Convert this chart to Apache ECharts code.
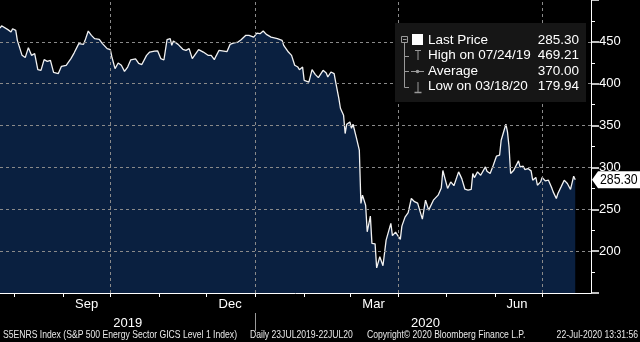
<!DOCTYPE html>
<html><head><meta charset="utf-8">
<script src="https://cdn.jsdelivr.net/npm/echarts@6/dist/echarts.min.js"></script>
<style>html,body{margin:0;padding:0;background:#000;}#c{width:640px;height:342px;}</style>
</head><body><div id="c"></div>
<script>
const dates = [
'2019-07-23','2019-07-24','2019-07-28','2019-07-30','2019-07-31','2019-08-02','2019-08-03','2019-08-06','2019-08-08','2019-08-10',
'2019-08-12','2019-08-14','2019-08-16','2019-08-18','2019-08-20','2019-08-22','2019-08-24','2019-08-26','2019-08-29','2019-08-31',
'2019-09-03','2019-09-06','2019-09-08','2019-09-11','2019-09-14','2019-09-15','2019-09-17','2019-09-19','2019-09-21','2019-09-24',
'2019-09-26','2019-09-29','2019-10-01','2019-10-02','2019-10-04','2019-10-06','2019-10-08','2019-10-10','2019-10-12','2019-10-14',
'2019-10-17','2019-10-19','2019-10-21','2019-10-24','2019-10-26','2019-10-29','2019-10-31','2019-11-02','2019-11-04','2019-11-06',
'2019-11-08','2019-11-09','2019-11-10','2019-11-13','2019-11-16','2019-11-18','2019-11-20','2019-11-22','2019-11-23','2019-11-26',
'2019-11-29','2019-12-02','2019-12-04','2019-12-06','2019-12-07','2019-12-09','2019-12-10','2019-12-14','2019-12-16','2019-12-18',
'2019-12-21','2019-12-23','2019-12-26','2019-12-28','2019-12-31','2020-01-02','2020-01-04','2020-01-06','2020-01-08','2020-01-09',
'2020-01-11','2020-01-12','2020-01-15','2020-01-18','2020-01-19','2020-01-22','2020-01-24','2020-01-26','2020-01-28','2020-01-29',
'2020-01-31','2020-02-01','2020-02-02','2020-02-04','2020-02-06','2020-02-08','2020-02-10','2020-02-13','2020-02-15','2020-02-16',
'2020-02-18','2020-02-20','2020-02-21','2020-02-23','2020-02-24','2020-02-26','2020-02-27','2020-02-28','2020-03-01','2020-03-02',
'2020-03-03','2020-03-05','2020-03-07','2020-03-08','2020-03-09','2020-03-11','2020-03-12','2020-03-14','2020-03-15','2020-03-17',
'2020-03-18','2020-03-20','2020-03-22','2020-03-24','2020-03-27','2020-03-28','2020-03-30','2020-04-02','2020-04-03','2020-04-05',
'2020-04-07','2020-04-09','2020-04-11','2020-04-13','2020-04-16','2020-04-18','2020-04-20','2020-04-23','2020-04-26','2020-04-28',
'2020-04-29','2020-05-02','2020-05-04','2020-05-06','2020-05-09','2020-05-11','2020-05-13','2020-05-15','2020-05-17','2020-05-18',
'2020-05-19','2020-05-21','2020-05-23','2020-05-24','2020-05-26','2020-05-27','2020-05-29','2020-05-31','2020-06-02','2020-06-04',
'2020-06-05','2020-06-08','2020-06-09','2020-06-10','2020-06-11','2020-06-13','2020-06-14','2020-06-16','2020-06-17','2020-06-19',
'2020-06-20','2020-06-22','2020-06-24','2020-06-25','2020-06-27','2020-06-28','2020-06-30','2020-07-01','2020-07-03','2020-07-05',
'2020-07-07','2020-07-08','2020-07-10','2020-07-11','2020-07-13','2020-07-15','2020-07-17','2020-07-19','2020-07-21','2020-07-22'
];
const prices = [
466.5,469.21,464.6,461.7,465.7,463.7,451.8,433.9,431.2,443.1,
433.9,435.9,416.8,416.0,428.8,426.7,427.9,413.6,412.1,420.8,
422.0,430.0,436.6,447.9,447.0,451.8,462.9,457.8,453.8,453.0,
447.9,441.9,440.7,431.9,418.0,424.7,422.0,414.8,419.9,428.5,
429.7,424.4,422.9,433.9,437.8,438.9,439.3,430.0,428.3,452.6,
453.8,445.8,451.0,447.0,441.1,439.9,441.9,430.0,432.7,440.7,
437.8,433.9,433.9,428.8,432.7,439.9,438.1,438.3,447.0,448.6,
449.8,452.6,457.8,457.8,455.7,460.5,459.8,462.9,458.9,459.8,
455.7,456.6,453.8,451.8,445.8,437.8,433.9,422.0,419.9,416.8,
419.9,404.1,402.0,402.0,416.8,411.2,407.3,416.0,412.8,408.0,
414.0,412.1,402.0,382.6,370.7,362.3,340.5,351.6,354.3,346.8,
351.6,336.4,320.6,257.0,266.9,254.9,223.1,241.8,209.3,208.8,
179.94,193.3,182.5,213.2,233.1,218.6,222.7,214.0,229.9,240.6,
246.0,262.9,259.1,257.3,238.2,260.9,249.0,260.9,266.9,275.5,
296.3,274.9,282.7,278.2,294.7,286.6,274.0,272.8,273.8,292.8,
287.8,294.7,290.7,292.8,300.6,295.5,292.8,302.7,313.4,314.6,
332.5,351.6,342.4,324.5,292.8,296.7,300.6,307.8,300.6,301.5,
297.5,298.7,295.9,284.8,288.0,278.8,282.7,288.0,283.9,284.8,
276.1,270.8,262.9,268.9,276.8,284.8,280.8,273.7,289.5,285.30
];
const xMin = '2019-07-23';
const xMax = '2020-08-01';
const monthTickDates = ['2019-08-01','2019-09-01','2019-10-01','2019-11-01','2019-12-01','2020-01-01','2020-02-01','2020-03-01','2020-04-01','2020-05-01','2020-06-01','2020-07-01'];
const quarterLineDates = ['2019-10-01','2020-01-01','2020-04-01','2020-07-01'];
const monthLabelDates = ['2019-09-16','2019-12-16','2020-03-16','2020-06-15'];
const monthLabels = ['Sep','Dec','Mar','Jun'];
const yearLabelDates = ['2019-10-12','2020-04-18'];
const yearLabels = ['2019','2020'];
const yearBreakDates = ['2020-01-01'];
const yMin = 150, yMax = 500, yStep = 50;
const legendLabels = ['Last Price','High on 07/24/19','Average','Low on 03/18/20'];
const legendValues = ['285.30','469.21','370.00','179.94'];
const lastPriceText = '285.30';
const footerTexts = ['S5ENRS Index (S&P 500 Energy Sector GICS Level 1 Index)','Daily 23JUL2019-22JUL20','Copyright\u00A9 2020 Bloomberg Finance L.P.','22-Jul-2020 13:31:56'];

const REG = "'Liberation Sans',Arial,sans-serif";
const ts = d => +echarts.time.parse(d);
const chart = echarts.init(document.getElementById('c'), null, {renderer:'canvas'});
function lookup(arrD, arrL){
  const t = arrD.map(ts);
  return v => { for (let i=0;i<t.length;i++){ if (Math.abs(t[i]-v) < 43200000) return arrL[i]; } return ''; };
}
const X0 = ts(xMin), X1 = ts(xMax);
const option = {
  backgroundColor:'#000',
  animation:false,
  grid: {left:0, right:49, top:0, bottom:49},
  xAxis: [
    {type:'value', min:X0, max:X1, position:'bottom', z:3,
     axisLine:{show:true, onZero:false, lineStyle:{color:'#ffffff', width:1}},
     axisTick:{show:true, customValues:monthTickDates.map(ts), length:4, lineStyle:{color:'#ffffff'}},
     axisLabel:{show:false}, splitLine:{show:false}},
    {type:'value', min:X0, max:X1, position:'bottom',
     axisLine:{show:false, onZero:false}, axisTick:{show:false}, splitLine:{show:false},
     axisLabel:{show:true, customValues:monthLabelDates.map(ts), formatter:lookup(monthLabelDates, monthLabels),
       color:'#ffffff', fontFamily:REG, fontSize:13, margin:5}},
    {type:'value', min:X0, max:X1, position:'bottom', offset:20,
     axisLine:{show:false, onZero:false}, splitLine:{show:false},
     axisTick:{show:true, customValues:yearBreakDates.map(ts), length:18, lineStyle:{color:'#9a9a9a'}},
     axisLabel:{show:true, customValues:yearLabelDates.map(ts), formatter:lookup(yearLabelDates, yearLabels),
       color:'#ffffff', fontFamily:REG, fontSize:13, margin:4}}
  ],
  yAxis: {type:'value', position:'right', min:yMin, max:yMax, interval:yStep, z:3,
    axisLine:{show:true, lineStyle:{color:'#ffffff'}},
    axisTick:{show:true, length:8, lineStyle:{color:'#ffffff', width:1.5}},
    minorTick:{show:true, splitNumber:2, length:4, lineStyle:{color:'#ffffff'}},
    axisLabel:{color:'#ffffff', fontFamily:REG, fontSize:13, margin:8,
      formatter: v => (v===yMin || v===yMax) ? '' : String(v)},
    splitLine:{show:true, showMinLine:false, showMaxLine:false, lineStyle:{color:'#8a8a8a', type:[3,3], width:1}}
  },
  series: [{
    type:'line', xAxisIndex:0, yAxisIndex:0, z:2,
    data: dates.map((d,i)=>[ts(d), prices[i]]),
    showSymbol:false, symbol:'none',
    lineStyle:{color:'#f2f2f2', width:1.3},
    areaStyle:{color:'#0a2040', opacity:1},
    markLine:{silent:true, symbol:['none','none'], label:{show:false},
      lineStyle:{color:'#8a8a8a', type:[3,3], width:1},
      data: quarterLineDates.map(d=>({xAxis:ts(d)}))}
  }]
};
chart.setOption(option);

const lastVal = prices[prices.length-1];
const tagY = chart.convertToPixel({yAxisIndex:0}, lastVal);
const axisX = chart.convertToPixel({xAxisIndex:0}, X1);
const g = [];
g.push({type:'rect', shape:{x:395, y:23, width:191, height:79}, style:{fill:'#161616'}, z:10});
const rowY0 = 40, rowDy = 15.5;
const glyph = '#9a9a9a';
g.push({type:'rect', shape:{x:401.5, y:rowY0-3.5, width:6, height:6}, style:{fill:'none', stroke:glyph, lineWidth:1}, z:11});
g.push({type:'line', shape:{x1:403, y1:rowY0-0.5, x2:406.5, y2:rowY0-0.5}, style:{stroke:glyph, lineWidth:1}, z:11});
g.push({type:'line', shape:{x1:404.5, y1:rowY0+2.5, x2:404.5, y2:rowY0+3*rowDy+1}, style:{stroke:glyph, lineWidth:1}, z:11});
for (let i=1;i<4;i++){
  const y = Math.round(rowY0+i*rowDy)+0.5;
  g.push({type:'line', shape:{x1:404.5, y1:y, x2:409, y2:y}, style:{stroke:glyph, lineWidth:1}, z:11});
}
g.push({type:'rect', shape:{x:412, y:rowY0-6, width:11, height:11}, style:{fill:'#ffffff'}, z:11});
let y2 = Math.round(rowY0+rowDy);
g.push({type:'line', shape:{x1:415, y1:y2-5.5, x2:421, y2:y2-5.5}, style:{stroke:glyph, lineWidth:1}, z:11});
g.push({type:'line', shape:{x1:418, y1:y2-5.5, x2:418, y2:y2+4}, style:{stroke:glyph, lineWidth:1}, z:11});
let y3 = Math.round(rowY0+2*rowDy)+0.5;
g.push({type:'line', shape:{x1:411, y1:y3, x2:424, y2:y3}, style:{stroke:glyph, lineWidth:1}, z:11});
g.push({type:'circle', shape:{cx:417.5, cy:y3, r:1.8}, style:{fill:glyph}, z:11});
let y4 = Math.round(rowY0+3*rowDy);
g.push({type:'line', shape:{x1:418, y1:y4-5, x2:418, y2:y4+5}, style:{stroke:glyph, lineWidth:1}, z:11});
g.push({type:'line', shape:{x1:414.5, y1:y4+5.5, x2:421.5, y2:y4+5.5}, style:{stroke:glyph, lineWidth:1.5}, z:11});
legendLabels.forEach((t,i)=>{
  const y = rowY0 + i*rowDy;
  g.push({type:'text', x:428, y:y, style:{text:t, fill:'#ffffff', font:'13.5px '+REG, textVerticalAlign:'middle', textAlign:'left'}, z:12});
  g.push({type:'text', x:579, y:y, style:{text:legendValues[i], fill:'#ffffff', font:'13.5px '+REG, textVerticalAlign:'middle', textAlign:'right'}, z:12});
});
const x0 = axisX + 1;
g.push({type:'polygon', shape:{points:[[x0,tagY],[x0+6,tagY-8.5],[640,tagY-8.5],[640,tagY+8.5],[x0+6,tagY+8.5]]}, style:{fill:'#ffffff'}, z:12});
g.push({type:'text', x:x0+8, y:tagY, scaleX:0.82, style:{text:lastPriceText, fill:'#000000', font:'15px '+REG, textVerticalAlign:'middle'}, z:13});
const fy = 335;
const fstyle = {fill:'#e8e8e8', font:'10.5px '+REG, textVerticalAlign:'middle'};
g.push({type:'text', x:3, y:fy, scaleX:0.82, style:Object.assign({text:footerTexts[0]}, fstyle), z:12});
g.push({type:'text', x:250, y:fy, scaleX:0.82, style:Object.assign({text:footerTexts[1]}, fstyle), z:12});
g.push({type:'text', x:367, y:fy, scaleX:0.82, style:Object.assign({text:footerTexts[2]}, fstyle), z:12});
g.push({type:'text', x:638, y:fy, scaleX:0.82, style:Object.assign({text:footerTexts[3], textAlign:'right'}, fstyle), z:12});
chart.setOption({graphic: g});
</script></body></html>
